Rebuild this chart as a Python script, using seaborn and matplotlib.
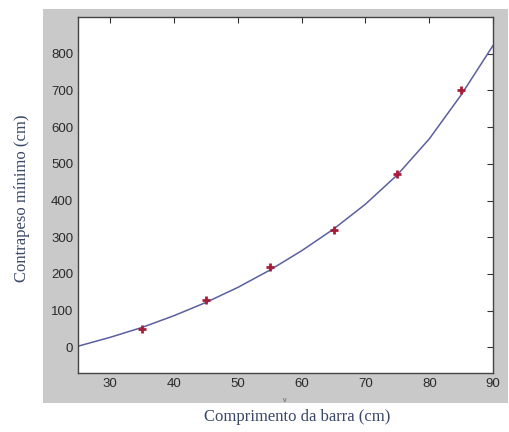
import pandas as pd
import matplotlib.pyplot as plt
import seaborn as sns
from matplotlib.patches import Rectangle

# Pontos medidos (comprimento da barra x contrapeso minimo)
comprimento = [35, 45, 55, 65, 75, 85]
contrapeso = [50, 128, 219, 320, 471, 702]

# Curva ajustada
curva_x = [25, 30, 35, 40, 45, 50, 55, 60, 65, 70, 75, 80, 85, 90]
curva_y = [3, 27, 54, 86, 122, 163, 210, 263, 322, 390, 470, 568, 688, 823]

x_ticks = [30, 40, 50, 60, 70, 80, 90]
y_ticks = [0, 100, 200, 300, 400, 500, 600, 700, 800]

df_pts = pd.DataFrame({"x": comprimento, "y": contrapeso})
df_fit = pd.DataFrame({"x": curva_x, "y": curva_y})

sns.set_theme(style="white")
plt.rcParams["font.family"] = ["Liberation Sans Narrow", "Liberation Sans", "DejaVu Sans"]

fig = plt.figure(figsize=(5.1, 4.32), dpi=100)
fig.patch.set_facecolor("white")

# fundo cinza estilo MATLAB
fundo = Rectangle((0.084, 0.067), 0.912, 0.912, transform=fig.transFigure,
                  facecolor="#c9c9c9", edgecolor="none", zorder=-1)
fig.add_artist(fundo)

ax = fig.add_axes([0.153, 0.1366, 0.814, 0.824])
ax.set_zorder(1)
ax.set_facecolor("white")

sns.lineplot(data=df_fit, x="x", y="y", ax=ax, color="#5b5f9e", linewidth=1.1)
sns.scatterplot(data=df_pts, x="x", y="y", ax=ax, marker="+", color="#a81c3a",
                s=38, linewidth=2.0, zorder=3)

ax.set_xlim(25, 90)
ax.set_ylim(-70, 900)
ax.set_xticks(x_ticks)
ax.set_yticks(y_ticks)
ax.tick_params(direction="in", length=4, width=0.8, colors="#333333", labelsize=9.5,
               top=True, right=True, labeltop=False, labelright=False)
for t in ax.get_xticklabels() + ax.get_yticklabels():
    t.set_color("#2a2a2a")
for s in ax.spines.values():
    s.set_color("#444444")
    s.set_linewidth(1.0)

ax.set_xlabel("")
ax.set_ylabel("")

fig.text(0.583, 0.035, "Comprimento da barra (cm)", ha="center", va="center",
         family=["Liberation Serif"], fontsize=12, color="#3a4868")
fig.text(0.043, 0.54, "Contrapeso mínimo (cm)", ha="center", va="center", rotation=90,
         family=["Liberation Serif"], fontsize=12, color="#3a4868")
fig.text(0.558, 0.073, "v", ha="center", va="center", fontsize=5, color="#555555", zorder=2)

plt.savefig("out.png", dpi=100)
